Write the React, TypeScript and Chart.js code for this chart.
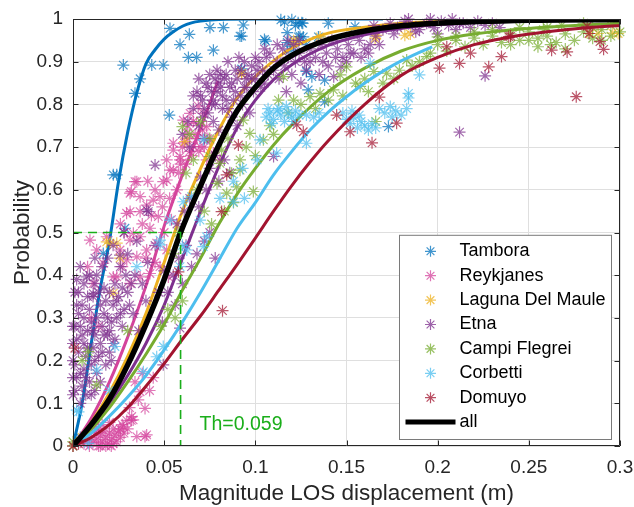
import React, { useEffect, useRef } from 'react';
import { Chart, registerables } from 'chart.js';

Chart.register(...registerables);

const FONT = "'Liberation Sans', Arial, Helvetica, sans-serif";
const TEXT = '#262626';

const seriesNames = ['Tambora', 'Reykjanes', 'Laguna Del Maule', 'Etna', 'Campi Flegrei', 'Corbetti', 'Domuyo'];
const seriesColors = ['#0072BD', '#D4449C', '#EDB120', '#7E2F8E', '#77AC30', '#4DBEEE', '#A2142F'];
const allLabel = 'all';

const xTicks = [0, 0.05, 0.1, 0.15, 0.2, 0.25, 0.3];
const yTicks = [0, 0.1, 0.2, 0.3, 0.4, 0.5, 0.6, 0.7, 0.8, 0.9, 1];

const thresholdX = 0.059;
const thresholdP = 0.5;
const thresholdText = 'Th=0.059';

// ---- observed points (x = LOS displacement, y = probability) ----
const tamboraPts = [
  [0.0276, 0.892], [0.034, 0.826], [0.0368, 0.86], [0.0432, 0.892], [0.0495, 0.892], [0.0532, 0.978], [0.0587, 0.94],
  [0.0638, 0.964], [0.0633, 0.91], [0.0678, 0.91], [0.0528, 0.775], [0.0751, 0.98], [0.077, 0.927], [0.0825, 0.98],
  [0.0925, 0.96], [0.0934, 0.986], [0.0925, 0.883], [0.0221, 0.635], [0.024, 0.635], [0.0285, 0.51], [0.0166, 0.451],
  [0.105, 0.952], [0.1058, 0.948], [0.116, 0.993], [0.1175, 0.968], [0.1235, 0.991], [0.1255, 0.991], [0.1245, 0.959],
  [0.1175, 0.945], [0.1207, 0.935], [0.126, 0.99], [0.1263, 0.958], [0.1346, 0.958], [0.1547, 0.982], [0.128, 0.877],
  [0.129, 0.834], [0.138, 0.857], [0.138, 0.806], [0.173, 0.748], [0.119, 0.927], [0.1236, 0.958], [0.131, 0.865],
  [0.0916, 0.96], [0.114, 0.998], [0.12, 0.998], [0.122, 0.985], [0.128, 0.94], [0.14, 0.99], [0.0, 0.0], [0.004, 0.02],
];
const reykjanesPts = [
  [0.006, 0.005], [0.008, 0.012], [0.009, 0.0], [0.01, 0.02], [0.011, 0.008], [0.012, 0.03], [0.013, 0.015], [0.014, 0.0],
  [0.015, 0.025], [0.016, 0.01], [0.017, 0.035], [0.018, 0.02], [0.019, 0.005], [0.02, 0.03], [0.021, 0.015], [0.022, 0.04],
  [0.023, 0.025], [0.024, 0.01], [0.025, 0.035], [0.026, 0.02], [0.027, 0.05], [0.028, 0.03], [0.012, 0.045], [0.016, 0.05],
  [0.02, 0.055], [0.014, 0.04], [0.018, 0.0], [0.022, 0.005], [0.03, 0.04], [0.032, 0.06], [0.015, 0.0], [0.021, 0.0],
  [0.0358, 0.108], [0.0395, 0.088], [0.0322, 0.069], [0.0276, 0.045], [0.0404, 0.026], [0.0295, 0.06], [0.0258, 0.04],
  [0.0368, 0.127], [0.033, 0.061], [0.035, 0.022], [0.0395, 0.022], [0.034, 0.15], [0.038, 0.17], [0.042, 0.13],
  [0.031, 0.09], [0.044, 0.16], [0.01, 0.3], [0.014, 0.28],
  [0.0093, 0.482], [0.013, 0.459], [0.0185, 0.49], [0.0166, 0.428], [0.0221, 0.396], [0.0111, 0.381], [0.008, 0.42],
  [0.035, 0.619], [0.032, 0.596], [0.0313, 0.549], [0.0368, 0.549], [0.0404, 0.564], [0.044, 0.576], [0.0477, 0.584],
  [0.0468, 0.537], [0.0422, 0.51], [0.0368, 0.49], [0.0313, 0.482], [0.0258, 0.459], [0.0295, 0.436], [0.035, 0.443],
  [0.0404, 0.459], [0.0459, 0.475], [0.0514, 0.459], [0.0477, 0.42], [0.0422, 0.404], [0.0368, 0.396], [0.0313, 0.381],
  [0.024, 0.396], [0.0523, 0.396], [0.0532, 0.646], [0.0587, 0.67], [0.055, 0.693], [0.0514, 0.67], [0.0495, 0.619],
  [0.034, 0.619], [0.0313, 0.592], [0.0368, 0.584], [0.0294, 0.545], [0.0331, 0.498], [0.0514, 0.623], [0.055, 0.646],
  [0.0587, 0.678], [0.066, 0.701], [0.0624, 0.732], [0.0678, 0.756], [0.0642, 0.779], [0.0715, 0.779], [0.0733, 0.748],
  [0.0751, 0.717], [0.0697, 0.701], [0.077, 0.686], [0.0605, 0.763], [0.055, 0.709], [0.0687, 0.796], [0.0806, 0.67],
  [0.0733, 0.67], [0.063, 0.72], [0.067, 0.73], [0.071, 0.74], [0.065, 0.68], [0.06, 0.7], [0.058, 0.64], [0.062, 0.66],
  [0.069, 0.69], [0.074, 0.72], [0.066, 0.76], [0.057, 0.6], [0.053, 0.58], [0.045, 0.6], [0.041, 0.62], [0.038, 0.52],
  [0.043, 0.54], [0.049, 0.56], [0.027, 0.42], [0.04, 0.44], [0.045, 0.43], [0.05, 0.5], [0.054, 0.53], [0.028, 0.5],
  [0.026, 0.52], [0.061, 0.71], [0.064, 0.69], [0.068, 0.72], [0.072, 0.7], [0.059, 0.66], [0.063, 0.75],
];
const lagunaPts = [
  [0.0203, 0.475], [0.0258, 0.44], [0.0185, 0.478], [0.024, 0.475], [0.0221, 0.358], [0.0925, 0.871], [0.0925, 0.873],
  [0.1218, 0.947], [0.1355, 0.958], [0.182, 0.962], [0.1657, 0.955], [0.1666, 0.962], [0.288, 0.966], [0.299, 0.966],
  [0.2836, 0.966], [0.296, 0.967], [0.121, 0.949], [0.0614, 0.713], [0.0, 0.0], [0.005, 0.02], [0.185, 0.965],
];
const etnaPts = [
  [0.001, 0.13], [0.002, 0.16], [0.001, 0.19], [0.003, 0.22], [0.002, 0.25], [0.004, 0.28], [0.005, 0.14], [0.006, 0.18],
  [0.007, 0.21], [0.006, 0.24], [0.008, 0.27], [0.009, 0.15], [0.01, 0.19], [0.011, 0.23], [0.01, 0.29], [0.012, 0.26],
  [0.013, 0.17], [0.014, 0.21], [0.015, 0.24], [0.016, 0.28], [0.017, 0.31], [0.018, 0.19], [0.019, 0.26], [0.02, 0.22],
  [0.021, 0.29], [0.022, 0.33], [0.023, 0.25], [0.024, 0.3], [0.025, 0.35], [0.027, 0.28], [0.028, 0.32], [0.03, 0.36],
  [0.003, 0.31], [0.005, 0.33], [0.008, 0.35], [0.004, 0.1], [0.007, 0.12], [0.012, 0.13], [0.002, 0.39], [0.013, 0.4],
  [0.017, 0.37], [0.02, 0.36], [0.006, 0.38], [0.015, 0.33], [0.011, 0.35], [0.0, 0.2], [0.0, 0.24], [0.0, 0.16],
  [0.001, 0.28], [0.002, 0.33], [0.003, 0.36], [0.004, 0.17], [0.005, 0.26], [0.006, 0.3], [0.007, 0.16], [0.008, 0.23],
  [0.009, 0.32], [0.01, 0.12], [0.011, 0.27], [0.012, 0.2], [0.013, 0.3], [0.014, 0.36], [0.015, 0.15], [0.016, 0.22],
  [0.017, 0.26], [0.018, 0.34], [0.019, 0.3], [0.02, 0.27], [0.021, 0.2], [0.022, 0.24], [0.023, 0.38], [0.024, 0.34],
  [0.026, 0.31], [0.027, 0.37], [0.029, 0.4], [0.031, 0.33], [0.032, 0.38], [0.0, 0.28], [0.0, 0.12], [0.001, 0.36],
  [0.004, 0.42], [0.009, 0.4], [0.016, 0.42], [0.012, 0.44],
  [0.026, 0.42], [0.03, 0.45], [0.034, 0.4], [0.038, 0.38], [0.041, 0.43], [0.035, 0.48], [0.028, 0.5], [0.022, 0.47],
  [0.019, 0.44], [0.045, 0.47], [0.05, 0.41], [0.047, 0.36], [0.04, 0.34], [0.033, 0.31], [0.036, 0.27], [0.0075, 0.396],
  [0.012, 0.38], [0.0111, 0.357], [0.045, 0.658], [0.0413, 0.549], [0.0404, 0.553], [0.0258, 0.447],
  [0.052, 0.36], [0.055, 0.4], [0.058, 0.44], [0.06, 0.38], [0.062, 0.47], [0.065, 0.42], [0.068, 0.45], [0.072, 0.48],
  [0.075, 0.5], [0.078, 0.44], [0.057, 0.52], [0.061, 0.55], [0.064, 0.58], [0.069, 0.56], [0.073, 0.6], [0.056, 0.33],
  [0.0495, 0.19], [0.0587, 0.276], [0.049, 0.29],
  [0.07, 0.63], [0.075, 0.65], [0.08, 0.62], [0.083, 0.67], [0.078, 0.68], [0.086, 0.64],
  [0.06, 0.73], [0.063, 0.76], [0.066, 0.79], [0.069, 0.75], [0.071, 0.81], [0.074, 0.78], [0.076, 0.83], [0.078, 0.8],
  [0.08, 0.85], [0.082, 0.82], [0.084, 0.87], [0.086, 0.84], [0.088, 0.81], [0.09, 0.86], [0.092, 0.88], [0.094, 0.84],
  [0.096, 0.87], [0.098, 0.89], [0.1, 0.86], [0.102, 0.9], [0.104, 0.88], [0.106, 0.91], [0.073, 0.85], [0.079, 0.88],
  [0.085, 0.9], [0.091, 0.91], [0.068, 0.83], [0.075, 0.87], [0.082, 0.79], [0.087, 0.77], [0.093, 0.8], [0.099, 0.83],
  [0.105, 0.85], [0.11, 0.88], [0.064, 0.7], [0.072, 0.72], [0.08, 0.74], [0.09, 0.75], [0.097, 0.78], [0.077, 0.76],
  [0.07, 0.82], [0.081, 0.84], [0.089, 0.83], [0.095, 0.86], [0.083, 0.86], [0.077, 0.81],
  [0.066, 0.82], [0.069, 0.86], [0.072, 0.79], [0.074, 0.84], [0.076, 0.8], [0.079, 0.83], [0.081, 0.87], [0.084, 0.81],
  [0.087, 0.85], [0.089, 0.88], [0.092, 0.82], [0.095, 0.84], [0.098, 0.86], [0.101, 0.88], [0.103, 0.84], [0.107, 0.87],
  [0.085, 0.79], [0.078, 0.86], [0.071, 0.77], [0.094, 0.9], [0.1, 0.91], [0.105, 0.93],
  [0.108, 0.92], [0.112, 0.9], [0.115, 0.93], [0.118, 0.91], [0.121, 0.94], [0.124, 0.92], [0.127, 0.9], [0.13, 0.93],
  [0.133, 0.91], [0.136, 0.94], [0.139, 0.92], [0.142, 0.95], [0.145, 0.93], [0.148, 0.91], [0.151, 0.94], [0.154, 0.92],
  [0.157, 0.95], [0.16, 0.93], [0.163, 0.94], [0.166, 0.96], [0.12, 0.87], [0.128, 0.88], [0.14, 0.89], [0.15, 0.9],
  [0.113, 0.86], [0.125, 0.85], [0.135, 0.87], [0.117, 0.83], [0.143, 0.865], [0.147, 0.888], [0.11, 0.678],
  [0.112, 0.94], [0.118, 0.95], [0.124, 0.95], [0.13, 0.9], [0.137, 0.9], [0.144, 0.91], [0.152, 0.92], [0.158, 0.91],
  [0.162, 0.92], [0.168, 0.94], [0.116, 0.89], [0.122, 0.9],
  [0.165, 0.985], [0.17, 0.975], [0.174, 0.99], [0.178, 0.98], [0.182, 0.995], [0.186, 0.985], [0.19, 0.975],
  [0.194, 0.99], [0.198, 0.98], [0.202, 0.995], [0.206, 0.985], [0.21, 0.975], [0.214, 0.99], [0.218, 0.98],
  [0.222, 0.995], [0.226, 0.985], [0.23, 0.99], [0.234, 0.98], [0.176, 0.965], [0.188, 0.97], [0.2, 0.965],
  [0.212, 0.99], [0.196, 1.0], [0.208, 1.0], [0.184, 1.0], [0.212, 0.735], [0.226, 0.867],
];
const campiPts = [
  [0.005, 0.2], [0.0084, 0.221], [0.013, 0.143], [0.0, 0.01], [0.03, 0.27],
  [0.048, 0.28], [0.052, 0.32], [0.056, 0.3], [0.06, 0.34], [0.055, 0.45], [0.058, 0.5], [0.062, 0.639], [0.066, 0.67],
  [0.0806, 0.662], [0.0916, 0.646], [0.079, 0.615], [0.0843, 0.592], [0.06, 0.748], [0.064, 0.73], [0.07, 0.76],
  [0.075, 0.72], [0.068, 0.6], [0.072, 0.55], [0.076, 0.52], [0.083, 0.55], [0.088, 0.57],
  [0.1127, 0.81], [0.121, 0.81], [0.13, 0.818], [0.1355, 0.826], [0.1428, 0.834], [0.1465, 0.869], [0.15, 0.888],
  [0.1575, 0.842], [0.16, 0.86], [0.165, 0.877], [0.172, 0.873], [0.179, 0.88], [0.183, 0.904], [0.194, 0.912],
  [0.1154, 0.865], [0.0934, 0.763], [0.097, 0.732], [0.1044, 0.717], [0.0916, 0.67], [0.087, 0.639], [0.0815, 0.693],
  [0.075, 0.678], [0.0898, 0.607], [0.0989, 0.596], [0.108, 0.75], [0.118, 0.78], [0.125, 0.8], [0.133, 0.79],
  [0.14, 0.81], [0.148, 0.82], [0.155, 0.85], [0.162, 0.83], [0.17, 0.85], [0.176, 0.86], [0.186, 0.89], [0.19, 0.9],
  [0.196, 0.92], [0.166, 0.76], [0.1, 0.68], [0.11, 0.73], [0.085, 0.72], [0.095, 0.7],
  [0.2, 0.94], [0.205, 0.925], [0.21, 0.95], [0.215, 0.935], [0.22, 0.955], [0.225, 0.94], [0.23, 0.96], [0.235, 0.945],
  [0.24, 0.965], [0.245, 0.95], [0.25, 0.97], [0.255, 0.955], [0.26, 0.96], [0.265, 0.945], [0.27, 0.965], [0.275, 0.95],
  [0.28, 0.97], [0.285, 0.955], [0.29, 0.975], [0.295, 0.96], [0.3, 0.97], [0.255, 0.935], [0.262, 0.94], [0.27, 0.93],
  [0.258, 0.975], [0.285, 0.98], [0.295, 0.985], [0.21, 0.96], [0.22, 0.97], [0.23, 0.975], [0.2, 0.958], [0.245, 0.98],
  [0.28, 0.99], [0.268, 0.985], [0.25, 0.95], [0.24, 0.94], [0.26, 0.98], [0.29, 0.95],
];
const corbettiPts = [
  [0.002, 0.084], [0.003, 0.08], [0.0084, 0.006], [0.013, 0.178], [0.0386, 0.174], [0.0459, 0.209], [0.0495, 0.233],
  [0.023, 0.233], [0.0477, 0.471], [0.0605, 0.572], [0.065, 0.584], [0.0477, 0.482], [0.0532, 0.529], [0.0697, 0.529],
  [0.0733, 0.49], [0.0715, 0.467], [0.0806, 0.58], [0.088, 0.572], [0.094, 0.58], [0.0624, 0.459], [0.0587, 0.42],
  [0.0715, 0.717], [0.1026, 0.717], [0.101, 0.67], [0.1117, 0.686], [0.128, 0.709],
  [0.106, 0.77], [0.108, 0.78], [0.11, 0.765], [0.112, 0.785], [0.114, 0.775], [0.116, 0.76], [0.118, 0.78], [0.12, 0.77],
  [0.122, 0.785], [0.109, 0.755], [0.113, 0.79], [0.117, 0.795], [0.121, 0.76], [0.124, 0.775], [0.107, 0.79],
  [0.128, 0.775], [0.132, 0.77], [0.135, 0.78],
  [0.148, 0.78], [0.15, 0.765], [0.152, 0.755], [0.154, 0.77], [0.156, 0.745], [0.158, 0.76], [0.16, 0.75], [0.162, 0.74],
  [0.164, 0.755], [0.166, 0.745], [0.153, 0.785], [0.157, 0.775],
  [0.168, 0.79], [0.171, 0.78], [0.174, 0.795], [0.177, 0.785], [0.18, 0.775], [0.183, 0.79], [0.175, 0.77],
  [0.184, 0.826], [0.184, 0.815], [0.19, 0.869], [0.163, 0.896], [0.088, 0.62], [0.093, 0.65], [0.06, 0.47],
  [0.035, 0.42], [0.02, 0.13],
];
const domuyoPts = [
  [0.001, 0.229], [0.082, 0.317], [0.0578, 0.408], [0.0, 0.0], [0.003, 0.005], [0.0815, 0.549], [0.0843, 0.635],
  [0.0907, 0.705], [0.1227, 0.752], [0.1263, 0.736], [0.1446, 0.775], [0.152, 0.736], [0.164, 0.71], [0.168, 0.817],
  [0.201, 0.885], [0.205, 0.935], [0.212, 0.896], [0.218, 0.92], [0.228, 0.888], [0.235, 0.912], [0.239, 0.959],
  [0.2625, 0.927], [0.271, 0.923], [0.276, 0.818], [0.282, 0.983], [0.289, 0.947], [0.291, 0.929], [0.283, 0.966],
  [0.24, 0.96], [0.1775, 0.756],
];

// ---- fitted curves ----
const tamboraFit = [
  [0, 0], [0.005, 0.1], [0.01, 0.24], [0.015, 0.37], [0.02, 0.48], [0.025, 0.62], [0.03, 0.735], [0.035, 0.827],
  [0.04, 0.895], [0.045, 0.928], [0.05, 0.953], [0.055, 0.97], [0.06, 0.983], [0.065, 0.991], [0.07, 0.995],
  [0.08, 0.999], [0.1, 1], [0.17, 1],
];
const reykjanesFit = [
  [0, 0], [0.01, 0.065], [0.02, 0.15], [0.03, 0.255], [0.04, 0.375], [0.05, 0.515], [0.06, 0.635], [0.07, 0.745],
  [0.0795, 0.855],
];
const lagunaFit = [
  [0, 0], [0.01, 0.055], [0.02, 0.125], [0.03, 0.21], [0.04, 0.31], [0.05, 0.43], [0.06, 0.55], [0.07, 0.65],
  [0.08, 0.74], [0.09, 0.815], [0.1, 0.865], [0.11, 0.902], [0.12, 0.932], [0.14, 0.967], [0.16, 0.981], [0.18, 0.99],
  [0.2, 0.994], [0.25, 0.998], [0.3, 0.999],
];
const etnaFit = [
  [0, 0], [0.01, 0.045], [0.02, 0.1], [0.03, 0.165], [0.04, 0.24], [0.05, 0.33], [0.06, 0.44], [0.07, 0.55],
  [0.08, 0.655], [0.09, 0.745], [0.1, 0.81], [0.11, 0.858], [0.12, 0.893], [0.14, 0.938], [0.16, 0.963], [0.18, 0.978],
  [0.2, 0.987], [0.22, 0.992], [0.24, 0.995],
];
const campiFit = [
  [0, 0], [0.01, 0.04], [0.02, 0.09], [0.03, 0.15], [0.04, 0.215], [0.05, 0.285], [0.06, 0.365], [0.07, 0.44],
  [0.08, 0.52], [0.09, 0.59], [0.1, 0.65], [0.11, 0.705], [0.12, 0.752], [0.14, 0.83], [0.16, 0.885], [0.18, 0.925],
  [0.2, 0.95], [0.22, 0.965], [0.25, 0.978], [0.3, 0.99],
];
const corbettiFit = [
  [0, 0], [0.01, 0.03], [0.02, 0.07], [0.03, 0.115], [0.04, 0.165], [0.05, 0.225], [0.06, 0.29], [0.07, 0.36],
  [0.08, 0.435], [0.09, 0.51], [0.1, 0.57], [0.11, 0.635], [0.12, 0.69], [0.13, 0.74], [0.14, 0.782], [0.15, 0.818],
  [0.16, 0.85], [0.17, 0.878], [0.18, 0.902], [0.19, 0.922], [0.197, 0.935],
];
const domuyoFit = [
  [0, 0], [0.01, 0.02], [0.02, 0.05], [0.03, 0.09], [0.04, 0.14], [0.05, 0.193], [0.06, 0.25], [0.07, 0.305],
  [0.08, 0.365], [0.09, 0.425], [0.1, 0.487], [0.11, 0.55], [0.12, 0.61], [0.13, 0.665], [0.14, 0.715], [0.16, 0.8],
  [0.18, 0.868], [0.2, 0.91], [0.22, 0.94], [0.24, 0.958], [0.26, 0.97], [0.28, 0.979], [0.3, 0.985],
];
const allFit = [
  [0, 0], [0.01, 0.05], [0.02, 0.11], [0.03, 0.19], [0.04, 0.285], [0.05, 0.39], [0.059, 0.5], [0.07, 0.61],
  [0.08, 0.705], [0.09, 0.785], [0.1, 0.84], [0.11, 0.885], [0.12, 0.915], [0.14, 0.952], [0.16, 0.972], [0.18, 0.984],
  [0.2, 0.99], [0.25, 0.997], [0.3, 0.999],
];

const pointSets = [tamboraPts, reykjanesPts, lagunaPts, etnaPts, campiPts, corbettiPts, domuyoPts];
const fitSets = [tamboraFit, reykjanesFit, lagunaFit, etnaFit, campiFit, corbettiFit, domuyoFit];

function rgba(hex: string, a: number) {
  const n = parseInt(hex.slice(1), 16);
  return `rgba(${(n >> 16) & 255},${(n >> 8) & 255},${n & 255},${a})`;
}
const toXY = (arr: number[][]) => arr.map(([x, y]) => ({ x, y }));

function drawStar(ctx: CanvasRenderingContext2D, x: number, y: number, r: number) {
  const d = r * Math.SQRT1_2;
  ctx.beginPath();
  ctx.moveTo(x - r, y); ctx.lineTo(x + r, y);
  ctx.moveTo(x, y - r); ctx.lineTo(x, y + r);
  ctx.moveTo(x - d, y - d); ctx.lineTo(x + d, y + d);
  ctx.moveTo(x - d, y + d); ctx.lineTo(x + d, y - d);
  ctx.stroke();
}

const GREEN = '#1AAE1A';

const decorPlugin = {
  id: 'matlabDecor',
  afterDatasetsDraw(chart: any) {
    const { ctx, chartArea: a, scales } = chart;
    const xs = scales.x, ys = scales.y;
    ctx.save();
    ctx.fillStyle = GREEN;
    ctx.font = `19.5px ${FONT}`;
    ctx.textAlign = 'left';
    ctx.textBaseline = 'middle';
    ctx.fillText(thresholdText, xs.getPixelForValue(thresholdX) + 19, ys.getPixelForValue(0.05));
    ctx.strokeStyle = TEXT;
    ctx.lineWidth = 1;
    ctx.beginPath();
    ctx.rect(a.left + 0.5, a.top + 0.5, a.right - a.left - 1, a.bottom - a.top - 1);
    ctx.stroke();
    const tl = 5.5;
    ctx.beginPath();
    xTicks.forEach((v) => {
      const px = Math.round(xs.getPixelForValue(v)) + 0.5;
      ctx.moveTo(px, a.bottom); ctx.lineTo(px, a.bottom - tl);
      ctx.moveTo(px, a.top); ctx.lineTo(px, a.top + tl);
    });
    yTicks.forEach((v) => {
      const py = Math.round(ys.getPixelForValue(v)) + 0.5;
      ctx.moveTo(a.left, py); ctx.lineTo(a.left + tl, py);
      ctx.moveTo(a.right, py); ctx.lineTo(a.right - tl, py);
    });
    ctx.stroke();
    ctx.restore();
  },
  afterDraw(chart: any) {
    const { ctx, chartArea: a } = chart;
    ctx.save();
    const w = 212, rowH = 24.4;
    const h = rowH * (seriesNames.length + 1) + 9;
    const lx = a.right - 9 - w + 0.5;
    const ly = a.bottom - 7 - h + 0.5;
    ctx.fillStyle = '#ffffff';
    ctx.fillRect(lx, ly, w, h);
    ctx.strokeStyle = '#7a7a7a';
    ctx.lineWidth = 1;
    ctx.strokeRect(lx, ly, w, h);
    ctx.font = `18px ${FONT}`;
    ctx.textAlign = 'left';
    ctx.textBaseline = 'middle';
    const textX = lx + 60;
    seriesNames.forEach((name, i) => {
      const cy = ly + 16 + i * rowH;
      ctx.strokeStyle = rgba(seriesColors[i], 0.75);
      ctx.lineWidth = 1.2;
      drawStar(ctx, lx + 31, cy, 5.5);
      ctx.fillStyle = '#000';
      ctx.fillText(name, textX, cy);
    });
    const cy = ly + 16 + seriesNames.length * rowH;
    ctx.strokeStyle = '#000';
    ctx.lineWidth = 5;
    ctx.beginPath();
    ctx.moveTo(lx + 6, cy); ctx.lineTo(lx + 56, cy);
    ctx.stroke();
    ctx.fillStyle = '#000';
    ctx.fillText(allLabel, textX, cy);
    ctx.restore();
  },
};

function buildDatasets() {
  const ds: any[] = [];
  const total = seriesNames.length * 2 + 2;
  let k = 0;
  seriesNames.forEach((name, i) => {
    ds.push({
      label: name,
      data: toXY(pointSets[i]),
      showLine: false,
      pointStyle: 'star',
      pointRadius: 6,
      pointBorderWidth: 1.2,
      borderColor: rgba(seriesColors[i], 0.72),
      backgroundColor: rgba(seriesColors[i], 0.72),
      order: total - k++,
      clip: 8,
    });
    ds.push({
      label: name + ' fit',
      data: toXY(fitSets[i]),
      showLine: true,
      pointRadius: 0,
      borderColor: seriesColors[i],
      backgroundColor: seriesColors[i],
      borderWidth: 3,
      cubicInterpolationMode: 'monotone',
      fill: false,
      order: total - k++,
    });
  });
  ds.push({
    label: allLabel,
    data: toXY(allFit),
    showLine: true,
    pointRadius: 0,
    borderColor: '#000',
    backgroundColor: '#000',
    borderWidth: 5.5,
    cubicInterpolationMode: 'monotone',
    fill: false,
    order: total - k++,
  });
  ds.push({
    label: 'threshold',
    data: [
      { x: 0, y: thresholdP },
      { x: thresholdX, y: thresholdP },
      { x: thresholdX, y: 0 },
    ],
    showLine: true,
    pointRadius: 0,
    borderColor: GREEN,
    borderWidth: 1.6,
    borderDash: [9, 6],
    tension: 0,
    fill: false,
    order: total - k++,
  });
  return ds;
}

export default function App() {
  const ref = useRef<HTMLCanvasElement>(null);
  useEffect(() => {
    document.body.style.margin = '0';
    const canvas = ref.current!;
    const tickFont = { family: FONT, size: 19 };
    const titleFont = { family: FONT, size: 22.5 };
    const chart = new Chart(canvas, {
      type: 'scatter',
      data: { datasets: buildDatasets() },
      options: {
        animation: false,
        responsive: false,
        devicePixelRatio: 1,
        events: [],
        layout: { padding: { top: 19, right: 14, left: 0, bottom: 0 } },
        plugins: { legend: { display: false }, tooltip: { enabled: false } },
        scales: {
          x: {
            type: 'linear',
            min: 0,
            max: 0.3,
            afterBuildTicks: (s: any) => { s.ticks = xTicks.map((v) => ({ value: v })); },
            afterFit: (s: any) => { s.height = 61; s.paddingLeft = 0; s.paddingRight = 0; },
            ticks: {
              font: tickFont,
              color: TEXT,
              padding: 10,
              maxRotation: 0,
              autoSkip: false,
              callback: (v: any) => String(+Number(v).toFixed(2)),
            },
            grid: { color: '#DFDFDF', drawTicks: false, lineWidth: 1 },
            border: { display: false },
            title: { display: true, text: 'Magnitude LOS displacement (m)', font: titleFont, color: TEXT, padding: { top: 0, bottom: 0 } },
          },
          y: {
            type: 'linear',
            min: 0,
            max: 1,
            afterBuildTicks: (s: any) => { s.ticks = yTicks.map((v) => ({ value: v })); },
            afterFit: (s: any) => { s.width = 73; s.paddingTop = 0; s.paddingBottom = 0; },
            ticks: {
              font: tickFont,
              color: TEXT,
              padding: 10,
              autoSkip: false,
              callback: (v: any) => String(+Number(v).toFixed(1)),
            },
            grid: { color: '#DFDFDF', drawTicks: false, lineWidth: 1 },
            border: { display: false },
            title: { display: true, text: 'Probability', font: titleFont, color: TEXT, padding: { top: 9, bottom: 0 } },
          },
        },
      },
      plugins: [decorPlugin],
    } as any);
    return () => chart.destroy();
  }, []);
  return (
    <div style={{ position: 'absolute', left: 0, top: 0, width: 634, height: 507 }}>
      <canvas ref={ref} width={634} height={507} style={{ display: 'block', width: 634, height: 507 }} />
    </div>
  );
}
